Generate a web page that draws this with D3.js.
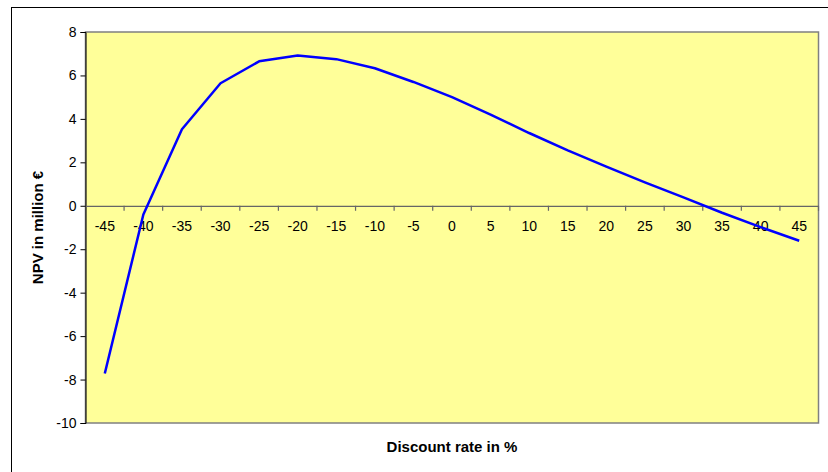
<!DOCTYPE html>
<html>
<head>
<meta charset="utf-8">
<script src="https://cdn.jsdelivr.net/npm/d3@7"></script>
<style>
  html, body { margin: 0; padding: 0; background: #fff; }
  svg { display: block; font-family: "Liberation Sans", Arial, sans-serif; }
</style>
</head>
<body>
<svg id="chart" width="828" height="472"></svg>
<script>
const rates = [-45, -40, -35, -30, -25, -20, -15, -10, -5, 0, 5, 10, 15, 20, 25, 30, 35, 40, 45];
const npv = [-7.72, -0.4, 3.52, 5.64, 6.65, 6.92, 6.75, 6.33, 5.7, 5.0, 4.2, 3.35, 2.55, 1.8, 1.08, 0.39, -0.32, -0.98, -1.61];
const yTicks = [-10, -8, -6, -4, -2, 0, 2, 4, 6, 8];
const xTitle = "Discount rate in %";
const yTitle = "NPV in million €";

const svg = d3.select("#chart");
const pL = 85.5, pR = 818.5, pT = 32, pB = 423;

// outer frame
svg.append("rect").attr("x", 11.5).attr("y", 7.5).attr("width", 840).attr("height", 500)
  .attr("fill", "#fff").attr("stroke", "#000").attr("stroke-width", 1);

const x = d3.scaleBand().domain(rates).range([pL, pR]).padding(0);
const y = d3.scaleLinear().domain([-10, 8]).range([pB, pT]);

// plot area
svg.append("rect").attr("x", pL).attr("y", pT).attr("width", pR - pL).attr("height", pB - pT)
  .attr("fill", "#FFFF99").attr("stroke", "#808080").attr("stroke-width", 1.5);

// y axis
const yAxis = d3.axisLeft(y).tickValues(yTicks).tickSize(5).tickPadding(4).tickFormat(d => String(d));
const gy = svg.append("g").attr("transform", `translate(${pL},0)`).call(yAxis);
gy.select(".domain").attr("stroke", "#000");
gy.selectAll(".tick line").attr("stroke", "#000");
gy.selectAll("text").attr("font-size", 14).attr("fill", "#000").attr("font-family", "Liberation Sans, Arial, sans-serif");

// x axis at y=0
const xAxis = d3.axisBottom(x).tickSize(0).tickPadding(15).tickFormat(d => String(d));
const gx = svg.append("g").attr("transform", `translate(0,${y(0)})`).call(xAxis);
gx.select(".domain").attr("stroke", "#666").attr("stroke-width", 1.2);
gx.selectAll("text").attr("font-size", 14).attr("fill", "#000").attr("font-family", "Liberation Sans, Arial, sans-serif");
// tick marks at category boundaries
const bounds = rates.slice(1).map(r => x(r));
bounds.push(pR);
gx.selectAll("line.bound").data(bounds).enter().append("line").attr("class", "bound")
  .attr("x1", d => d).attr("x2", d => d).attr("y1", 0).attr("y2", 5)
  .attr("stroke", "#666").attr("stroke-width", 1.2);

// line
const line = d3.line().x((d, i) => x(rates[i]) + x.bandwidth() / 2).y(d => y(d));
svg.append("path").datum(npv).attr("d", line).attr("fill", "none")
  .attr("stroke", "#0000FF").attr("stroke-width", 2.5).attr("stroke-linejoin", "round");

// titles
svg.append("text").attr("x", (pL + pR) / 2).attr("y", 452).attr("text-anchor", "middle")
  .attr("font-size", 15).attr("font-weight", "bold").text(xTitle);
svg.append("text").attr("transform", `translate(43,${(pT + pB) / 2}) rotate(-90)`)
  .attr("text-anchor", "middle").attr("font-size", 15).attr("font-weight", "bold").text(yTitle);
</script>
</body>
</html>
